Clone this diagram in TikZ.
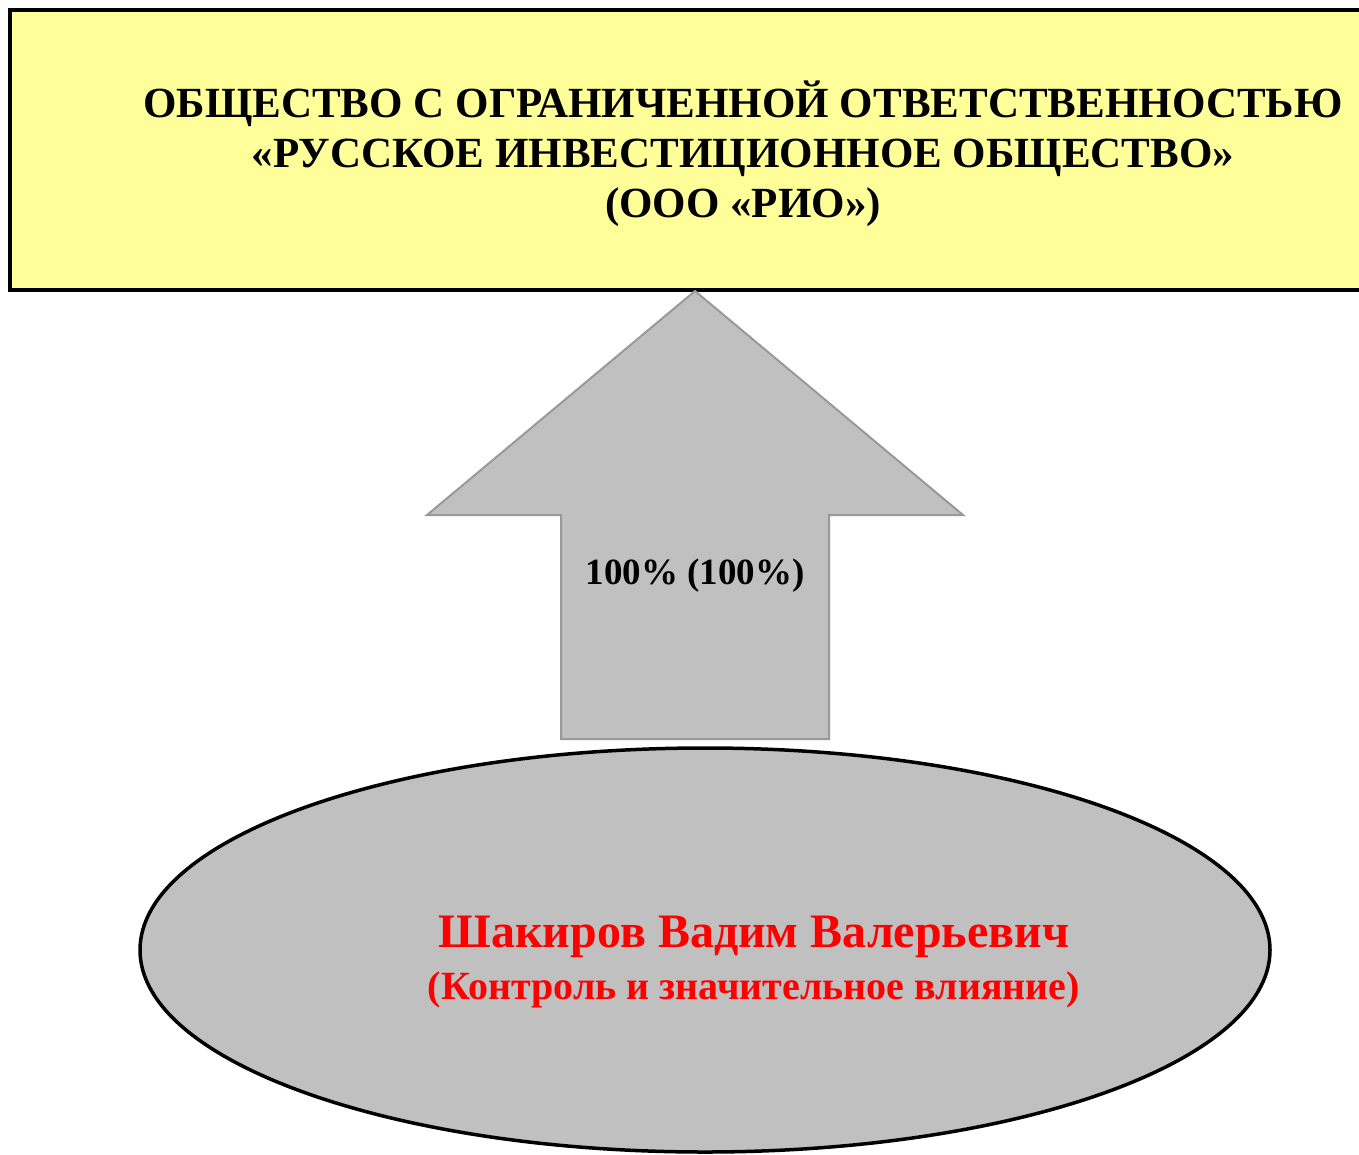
\documentclass[tikz,border=0pt]{standalone}
\usepackage{fontspec}
\setmainfont{Liberation Serif}
\usetikzlibrary{shapes.geometric}
\definecolor{boxyellow}{HTML}{FFFF99}
\definecolor{shapegray}{HTML}{C0C0C0}
\definecolor{edgegray}{HTML}{999999}
\tikzset{
  titlebox/.style={draw=black, line width=3.5pt, fill=boxyellow},
  blockarrow/.style={draw=edgegray, line width=2pt, fill=shapegray, line join=miter},
  ownershape/.style={ellipse, draw=black, line width=3.5pt, fill=shapegray, minimum width=1130pt, minimum height=404pt, inner sep=0pt},
  titletext/.style={font=\bfseries\fontsize{43}{50}\selectfont, anchor=base, inner sep=0pt},
  nametext/.style={text=red, anchor=base, inner sep=0pt, font=\bfseries\fontsize{48}{52}\selectfont},
  roletext/.style={text=red, anchor=base, inner sep=0pt, font=\bfseries\fontsize{40}{48}\selectfont},
  pcttext/.style={font=\bfseries\fontsize{37}{42}\selectfont, anchor=base, inner sep=0pt}
}
\begin{document}
\begin{tikzpicture}[x=1pt,y=-1pt]
\useasboundingbox (0,0) rectangle (1359,1154);
\begin{scope}
\clip (0,0) rectangle (1359,1154);
\draw[titlebox] (10,10) rectangle (1380,290);
\node[ownershape] (owner) at (705,950) {};
\end{scope}
\node[titletext] (title1) at (743,117) {ОБЩЕСТВО С ОГРАНИЧЕННОЙ ОТВЕТСТВЕННОСТЬЮ};
\node[titletext] (title2) at (743,167) {«РУССКОЕ ИНВЕСТИЦИОННОЕ ОБЩЕСТВО»};
\node[titletext] (title3) at (743,217) {(ООО «РИО»)};
\draw[blockarrow] (695,291) -- (963,515) -- (829,515) -- (829,739) -- (561,739) -- (561,515) -- (427,515) -- cycle;
\node[pcttext] (pct) at (695,584) {100\% (100\%)};
\node[nametext] (name) at (754,947) {Шакиров Вадим Валерьевич};
\node[roletext] (role) at (754,999) {(Контроль и значительное влияние)};
\end{tikzpicture}
\end{document}
